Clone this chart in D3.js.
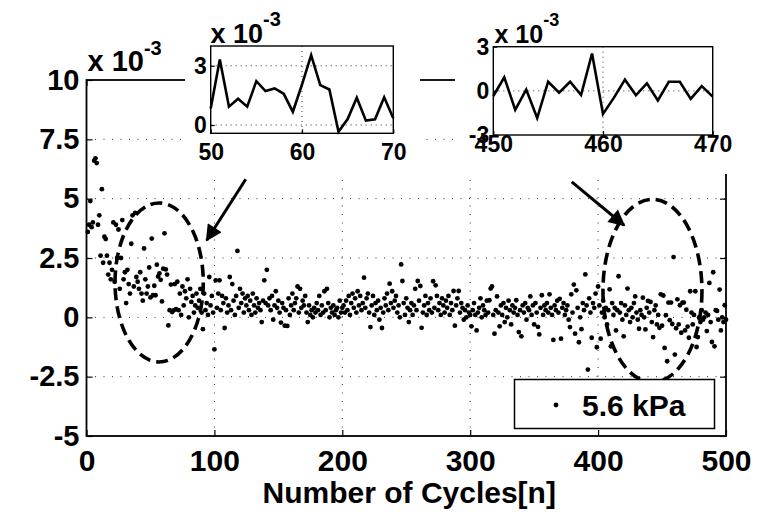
<!DOCTYPE html>
<html>
<head>
<meta charset="utf-8">
<script src="https://cdn.jsdelivr.net/npm/d3@7"></script>
<style>
  html, body { margin: 0; padding: 0; background: #fff; }
  svg { display: block; }
  text { font-family: "Liberation Sans", Arial, Helvetica, sans-serif; font-weight: bold; fill: #000; }
</style>
</head>
<body>
<div id="chart"></div>
<script>
// values are in units of 1e-3, one per cycle (cycle 1 .. 500)
var cycles001to050 = [3.6, 3.9, 4.9, 3.8, 4.0, 6.6, 6.7, 6.5, 3.9, 4.3,
    2.6, 5.4, 2.3, 3.4, 3.3, 2.6, 1.8, 2.3, 1.6, 2.0,
    4.0, 1.5, 3.9, 2.5, 3.7, 1.2, 2.5, 4.1, 1.6, 1.9,
    0.6, 2.0, 1.4, 1.0, 3.1, 4.3, 1.3, 4.4, 1.7, 1.5,
    1.2, 1.9, 1.0, 0.7, 2.9, 1.6, 1.0, 1.3, 2.1, 0.84];
var cycles051to100 = [3.32, 0.93, 1.33, 0.93, 2.22, 1.72, 1.85, 1.58, 0.67, 2.05,
    3.54, 2.02, 1.8, -0.34, 0.3, 1.38, 0.22, 0.29, 1.4, 0.34,
    1.5, 0.3, 1.0, 0.1, 1.3, 0.5, 1.1, 0.8, 1.6, 0.0,
    1.2, 0.65, 0.9, 0.2, 0.5, 1.0, 0.4, 0.7, 1.2, 0.2,
    -0.5, 1.0, 0.3, 0.6, 0.1, 1.7, 0.5, 0.9, 0.2, -1.35];
var cycles101to150 = [1.56, 0.4, 1.0, 1.56, 0.3, 0.9, 0.6, -0.45, 0.8, 0.2,
    0.5, 1.7, 0.3, 1.4, 0.7, 0.1, 0.9, 2.8, 0.4, 1.2,
    0.6, 1.0, 0.2, 0.8, 0.5, 0.9, 0.3, 0.7, 0.1, 1.0,
    0.5, 0.2, 0.8, 0.4, 0.6, 0.3, -0.2, 0.7, 1.56, 0.6,
    2.0, 0.5, 0.8, 0.3, 0.9, -0.1, 0.5, 1.1, 0.4, 0.7];
var cycles151to200 = [0.2, -0.22, 0.6, 0.4, -0.35, 0.3, -0.36, 0.8, 0.1, 0.5,
    1.0, 0.3, 0.6, 0.8, 1.3, 0.2, 1.2, 0.4, 0.7, 0.5,
    0.9, 0.2, -0.2, 0.5, 0.1, 0.3, 0.0, 0.4, 0.2, 0.6,
    0.3, 0.9, 0.1, 0.5, 0.2, 1.1, 0.3, 1.2, 0.6, 0.0,
    0.4, 0.2, 0.5, 0.1, 0.3, 0.4, 0.0, 0.7, 0.2, 0.4];
var cycles201to250 = [0.5, 0.2, 0.7, 0.3, 0.9, 0.1, 0.6, 1.0, 0.4, 0.8,
    0.2, 1.1, 0.5, 0.9, 0.3, 0.6, 1.67, 0.4, 0.8, 1.0,
    0.2, -0.41, 0.5, 0.9, 0.1, 0.6, 0.3, 0.7, -0.1, 0.4,
    -0.45, 0.2, 0.8, 0.5, 1.0, 0.3, 1.42, 0.6, 1.1, 0.4,
    0.7, 0.9, 0.2, 0.5, 0.0, 2.23, 1.53, 0.6, 0.1, 0.8];
var cycles251to300 = [0.4, -0.2, 0.3, 0.6, 0.1, 0.5, 1.2, 0.3, 1.53, 0.7,
    1.32, -0.44, 0.2, 0.5, 0.9, 0.1, 0.6, 0.3, 0.8, 0.2,
    1.52, 0.4, 1.35, 0.9, 0.3, 0.6, 0.1, 0.8, 0.5, 0.2,
    0.7, 0.4, 0.9, 0.1, 0.6, 0.3, 1.11, -0.35, 0.5, 0.8,
    1.11, 0.2, 0.6, 0.4, -0.1, 0.3, 0.0, 0.5, 0.2, 0.1];
var cycles301to350 = [-0.38, 0.3, 0.6, 0.1, -0.55, 0.2, 0.4, 0.8, 0.0, 0.5,
    0.3, 0.1, 0.7, 0.2, 0.72, 1.21, 1.3, 0.1, -0.69, 0.3,
    0.88, 0.2, -0.38, 0.5, 0.1, 0.6, -0.2, 0.4, 0.0, 0.7,
    0.3, -0.3, 0.5, 0.2, 0.4, 0.72, 0.1, -0.62, 0.3, -0.8,
    0.5, 0.2, 0.6, -0.1, 0.4, 0.3, 0.88, 0.1, 0.5, -0.3];
var cycles351to400 = [0.6, 0.2, -0.4, -0.72, 0.4, 0.93, 0.1, 0.5, 0.3, 0.6,
    0.2, 0.97, 0.4, 0.1, -0.95, 0.5, 0.3, 0.7, 0.2, 0.78,
    -0.9, 0.4, 0.6, 0.1, 0.3, 0.5, -0.1, -0.41, 0.97, 0.2,
    1.38, -0.69, 1.14, 0.4, -1.05, 0.0, -0.5, 0.6, 0.3, 1.81,
    0.5, -2.2, 0.8, 0.2, -0.86, 0.6, 0.4, 1.0, -1.26, 1.3];
var cycles401to450 = [0.5, -0.9, 0.2, 0.7, 0.0, 0.4, -0.3, 0.3, 1.18, -1.22,
    0.6, 0.1, 0.4, -0.55, 0.3, 1.73, 0.2, 0.6, -0.1, -0.8,
    0.5, 0.1, 1.21, 0.3, -0.2, 0.4, 0.0, 0.6, 0.88, 0.2,
    -0.1, -0.48, 0.3, 0.1, 0.83, 0.0, -0.51, 0.4, 0.69, 0.2,
    0.65, -0.2, -0.83, 0.3, 0.5, -0.3, 0.1, -0.44, 0.97, -0.35];
var cycles451to500 = [0.92, -1.29, 0.09, -1.85, 0.62, -0.12, 0.62, -0.28, 2.54, -1.57,
    -0.46, 0.76, -0.3, 0.51, -0.65, 0.62, 0.62, -0.55, 0.32, -0.39,
    -0.86, 1.1, 0.2, -0.3, 0.1, 1.1, -1.25, -0.83, 0.0, -0.2,
    0.3, -0.1, 0.0, 0.2, -0.58, 0.1, 1.45, -0.2, -1.04, 1.9,
    -1.22, 0.3, 0.27, -0.1, 1.17, -0.55, 0.0, -0.2, 0.51, -0.1];

var mainXTicks = [0, 100, 200, 300, 400, 500];
var mainYTicks = [-5, -2.5, 0, 2.5, 5, 7.5, 10];
var zoom1Range = [50, 70];
var zoom1XTicks = [50, 60, 70];
var zoom1YTicks = [0, 3];
var zoom2Range = [450, 470];
var zoom2XTicks = [450, 460, 470];
var zoom2YTicks = [-3, 0, 3];
var legendLabel = "5.6 kPa";
var xAxisTitle = "Number of Cycles[n]";

// highlighted regions (centre cycle, centre value, half widths) and arrows
var ellipses = [
    {cx: 56.8, cy: 1.47, rx: 34.5, ry: 3.35},
    {cx: 442.5, cy: 1.12, rx: 38.7, ry: 3.85}
];
var arrows = [
    {x1: 124.5, y1: 5.82, x2: 94.0, y2: 3.25},
    {x1: 379.4, y1: 5.71, x2: 420.3, y2: 3.88}
];

var values = [].concat(cycles001to050, cycles051to100, cycles101to150, cycles151to200,
    cycles201to250, cycles251to300, cycles301to350, cycles351to400,
    cycles401to450, cycles451to500);
var points = values.map(function (v, i) { return {n: i + 1, v: v}; });

var width = 769, height = 514;
var svg = d3.select("#chart").append("svg")
    .attr("width", width)
    .attr("height", height);

var x = d3.scaleLinear().domain([0, 500]).range([86.5, 726]);
var y = d3.scaleLinear().domain([-5, 10]).range([436, 80]);

var fmt = function (d) { return String(d); };

// grid lines (dotted)
var grid = svg.append("g").attr("class", "grid")
    .attr("stroke", "#333").attr("stroke-width", 1).attr("stroke-dasharray", "1,7.5");
grid.selectAll("line.gx").data(mainXTicks.slice(1, -1)).enter().append("line")
    .attr("x1", function (d) { return x(d); }).attr("x2", function (d) { return x(d); })
    .attr("y1", y(-5)).attr("y2", y(10));
grid.selectAll("line.gy").data(mainYTicks.slice(1, -1)).enter().append("line")
    .attr("y1", function (d) { return y(d); }).attr("y2", function (d) { return y(d); })
    .attr("x1", x(0)).attr("x2", x(500));

// scatter
svg.append("g").selectAll("circle").data(points).enter().append("circle")
    .attr("cx", function (d) { return x(d.n); })
    .attr("cy", function (d) { return y(d.v); })
    .attr("r", 2.4)
    .attr("fill", "#000");

// axes box + inward ticks
svg.append("rect")
    .attr("x", x(0)).attr("y", y(10))
    .attr("width", x(500) - x(0)).attr("height", y(-5) - y(10))
    .attr("fill", "none").attr("stroke", "#000").attr("stroke-width", 1.8);

function styleAxis(g, size) {
    g.select(".domain").remove();
    g.selectAll(".tick line").attr("stroke", "#000").attr("stroke-width", 1.2);
    g.selectAll(".tick text").style("font-size", size + "px").attr("fill", "#000");
}

svg.append("g").attr("transform", "translate(0," + y(-5) + ")")
    .call(d3.axisBottom(x).tickValues(mainXTicks).tickFormat(fmt).tickSizeInner(-6).tickPadding(14))
    .call(styleAxis, 30);
svg.append("g").attr("transform", "translate(" + x(0) + ",0)")
    .call(d3.axisLeft(y).tickValues(mainYTicks).tickFormat(fmt).tickSizeInner(-6).tickPadding(7))
    .call(styleAxis, 29);
svg.append("g").attr("transform", "translate(" + x(500) + ",0)")
    .call(d3.axisRight(y).tickValues(mainYTicks).tickSizeInner(-6).tickFormat(""))
    .call(styleAxis, 29);
svg.append("g").attr("transform", "translate(0," + y(10) + ")")
    .call(d3.axisTop(x).tickValues(mainXTicks).tickSizeInner(-6).tickFormat(""))
    .call(styleAxis, 29);

// x axis title
svg.append("text")
    .attr("x", (x(0) + x(500)) / 2 + 3).attr("y", 503)
    .attr("text-anchor", "middle")
    .style("font-size", "30px")
    .text(xAxisTitle);

// exponent label of main axis
var expMain = svg.append("text").attr("x", x(0) + 1).attr("y", 71).style("font-size", "29px");
expMain.append("tspan").text("x 10");
expMain.append("tspan").attr("dy", -16).style("font-size", "20px").text("-3");

// dashed ellipses
svg.append("g").selectAll("ellipse").data(ellipses).enter().append("ellipse")
    .attr("cx", function (d) { return x(d.cx); })
    .attr("cy", function (d) { return y(d.cy); })
    .attr("rx", function (d) { return x(d.rx) - x(0); })
    .attr("ry", function (d) { return y(0) - y(d.ry); })
    .attr("fill", "none").attr("stroke", "#000")
    .attr("stroke-width", 3.6).attr("stroke-dasharray", "12,6");

// arrows
svg.append("defs").append("marker")
    .attr("id", "head").attr("viewBox", "0 0 10 10")
    .attr("refX", 9).attr("refY", 5)
    .attr("markerWidth", 6).attr("markerHeight", 5.5)
    .attr("markerUnits", "strokeWidth")
    .attr("orient", "auto")
    .append("path").attr("d", "M0,0 L10,5 L0,10 z").attr("fill", "#000");
svg.append("g").selectAll("line").data(arrows).enter().append("line")
    .attr("x1", function (d) { return x(d.x1); })
    .attr("y1", function (d) { return y(d.y1); })
    .attr("x2", function (d) { return x(d.x2); })
    .attr("y2", function (d) { return y(d.y2); })
    .attr("stroke", "#000").attr("stroke-width", 3)
    .attr("marker-end", "url(#head)");

// legend
var legend = svg.append("g");
legend.append("rect")
    .attr("x", 514.5).attr("y", 379.5).attr("width", 200).attr("height", 49)
    .attr("fill", "#fff").attr("stroke", "#000").attr("stroke-width", 1.5);
legend.append("circle").attr("cx", 556).attr("cy", 405).attr("r", 2.4).attr("fill", "#000");
legend.append("text").attr("x", 582).attr("y", 416).style("font-size", "30px").text(legendLabel);

// white areas behind the zoomed views
svg.append("rect").attr("x", 185).attr("y", 0).attr("width", 235).attr("height", 175).attr("fill", "#fff");
svg.append("rect").attr("x", 455).attr("y", 0).attr("width", 314).attr("height", 174).attr("fill", "#fff");

// zoomed views
function drawInset(range, xTicks, yTicks, yDomain, box, expPos) {
    var ix = d3.scaleLinear().domain(range).range([box.x0, box.x1]);
    var iy = d3.scaleLinear().domain(yDomain).range([box.y1, box.y0]);
    var sub = points.filter(function (d) { return d.n >= range[0] && d.n <= range[1]; });
    var g = svg.append("g");

    g.append("rect")
        .attr("x", box.x0).attr("y", box.y0)
        .attr("width", box.x1 - box.x0).attr("height", box.y1 - box.y0)
        .attr("fill", "#fff");

    var gg = g.append("g").attr("stroke", "#333").attr("stroke-width", 1).attr("stroke-dasharray", "1,4");
    gg.selectAll("line.gx").data(xTicks.slice(1, -1)).enter().append("line")
        .attr("x1", function (d) { return ix(d); }).attr("x2", function (d) { return ix(d); })
        .attr("y1", box.y0).attr("y2", box.y1);
    gg.selectAll("line.gy").data(yTicks.filter(function (d) { return d > yDomain[0] && d < yDomain[1]; }))
        .enter().append("line")
        .attr("y1", function (d) { return iy(d); }).attr("y2", function (d) { return iy(d); })
        .attr("x1", box.x0).attr("x2", box.x1);

    g.append("path").datum(sub)
        .attr("fill", "none").attr("stroke", "#000").attr("stroke-width", 2.6)
        .attr("stroke-linejoin", "miter")
        .attr("d", d3.line().x(function (d) { return ix(d.n); }).y(function (d) { return iy(d.v); }));

    g.append("rect")
        .attr("x", box.x0).attr("y", box.y0)
        .attr("width", box.x1 - box.x0).attr("height", box.y1 - box.y0)
        .attr("fill", "none").attr("stroke", "#000").attr("stroke-width", 1.4);

    g.append("g").attr("transform", "translate(0," + box.y1 + ")")
        .call(d3.axisBottom(ix).tickValues(xTicks).tickFormat(fmt).tickSizeInner(-4).tickPadding(box.xPad))
        .call(styleAxis, 23);
    g.append("g").attr("transform", "translate(" + box.x0 + ",0)")
        .call(d3.axisLeft(iy).tickValues(yTicks).tickFormat(fmt).tickSizeInner(-4).tickPadding(4))
        .call(styleAxis, 23);

    var t = g.append("text").attr("x", expPos.x).attr("y", expPos.y).style("font-size", expPos.size + "px");
    t.append("tspan").text("x 10");
    t.append("tspan").attr("dy", -17).style("font-size", (expPos.size - 7) + "px").text("-3");
}

drawInset(zoom1Range, zoom1XTicks, zoom1YTicks, [-0.42, 4.0],
    {x0: 210.7, x1: 393.3, y0: 46, y1: 133.3, xPad: 10},
    {x: 210.5, y: 42.7, size: 27});
drawInset(zoom2Range, zoom2XTicks, zoom2YTicks, [-3, 3],
    {x0: 493.3, x1: 712.7, y0: 46.7, y1: 135, xPad: 1},
    {x: 494.5, y: 42.7, size: 25});
</script>
</body>
</html>
